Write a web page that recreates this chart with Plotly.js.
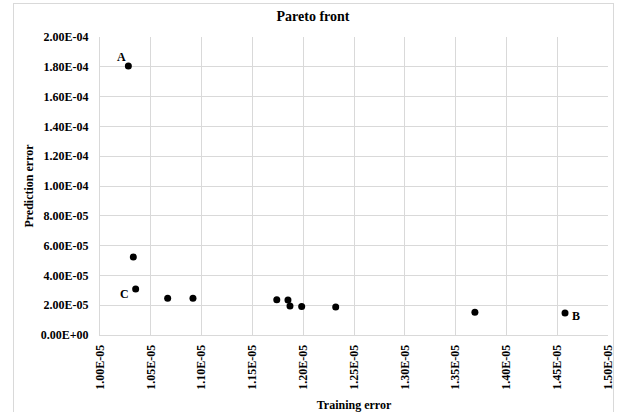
<!DOCTYPE html>
<html>
<head>
<meta charset="utf-8">
<script src="https://cdn.plot.ly/plotly-3.0.1.min.js"></script>
<style>
  html, body { margin: 0; padding: 0; background: #fff; overflow: hidden; }
  #frame { position: absolute; left: 13px; top: 3px; width: 599px; height: 430px; border: 1px solid #d9d9d9; }
  #chart { position: absolute; left: 0; top: 0; width: 621px; height: 412px; }
</style>
</head>
<body>
<div id="frame"></div>
<div id="chart"></div>
<script>
const trainingError = [1.0279e-5, 1.0328e-5, 1.0351e-5, 1.0666e-5, 1.0915e-5, 1.174e-5, 1.185e-5, 1.187e-5, 1.1985e-5, 1.232e-5, 1.369e-5, 1.4577e-5];
const predictionError = [1.806e-4, 5.23e-5, 3.08e-5, 2.46e-5, 2.46e-5, 2.37e-5, 2.35e-5, 1.94e-5, 1.92e-5, 1.88e-5, 1.52e-5, 1.47e-5];
const pointLabels = ['A', '', 'C', '', '', '', '', '', '', '', '', 'B'];

const xTickVals = [1.00e-5, 1.05e-5, 1.10e-5, 1.15e-5, 1.20e-5, 1.25e-5, 1.30e-5, 1.35e-5, 1.40e-5, 1.45e-5, 1.50e-5];
const xTickText = ['1.00E-05', '1.05E-05', '1.10E-05', '1.15E-05', '1.20E-05', '1.25E-05', '1.30E-05', '1.35E-05', '1.40E-05', '1.45E-05', '1.50E-05'];
const yTickVals = [0, 2e-5, 4e-5, 6e-5, 8e-5, 1e-4, 1.2e-4, 1.4e-4, 1.6e-4, 1.8e-4, 2e-4];
const yTickText = ['0.00E+00', '2.00E-05', '4.00E-05', '6.00E-05', '8.00E-05', '1.00E-04', '1.20E-04', '1.40E-04', '1.60E-04', '1.80E-04', '2.00E-04'];

const serif = 'Liberation Serif, Times New Roman, serif';
const labelShift = { A: [-7, 9], B: [11, -3], C: [-11, -5] };

const annotations = [];
pointLabels.forEach((lab, i) => {
  if (!lab) return;
  annotations.push({
    x: trainingError[i], y: predictionError[i], xref: 'x', yref: 'y',
    text: '<b>' + lab + '</b>', showarrow: false,
    xshift: labelShift[lab][0], yshift: labelShift[lab][1],
    font: { family: serif, size: 12, color: '#000' }
  });
});

const trace = {
  x: trainingError, y: predictionError, type: 'scatter', mode: 'markers',
  marker: { color: '#000', size: 7 }, hoverinfo: 'skip'
};

const layout = {
  width: 621, height: 412,
  margin: { l: 100, r: 13, t: 37, b: 77 },
  paper_bgcolor: 'rgba(0,0,0,0)', plot_bgcolor: 'rgba(0,0,0,0)',
  showlegend: false,
  title: { text: '<b>Pareto front</b>', x: 313 / 621, xref: 'container', xanchor: 'center',
           y: 1 - 16 / 412, yref: 'container', yanchor: 'middle',
           font: { family: serif, size: 14, color: '#000' } },
  xaxis: {
    range: [1.0e-5, 1.5e-5], tickmode: 'array', tickvals: xTickVals, ticktext: xTickText,
    tickangle: -90, showgrid: true, gridcolor: '#d9d9d9', gridwidth: 1,
    showline: true, linecolor: '#d9d9d9', linewidth: 1, zeroline: false, ticks: '',
    ticklabelstandoff: 4,
    tickfont: { family: serif, size: 12, color: '#000', weight: 'bold' },
    title: { text: '<b>Training error</b>', standoff: 11, font: { family: serif, size: 12, color: '#000' } }
  },
  yaxis: {
    range: [0, 2e-4], tickmode: 'array', tickvals: yTickVals, ticktext: yTickText,
    showgrid: true, gridcolor: '#d9d9d9', gridwidth: 1,
    showline: true, linecolor: '#d9d9d9', linewidth: 1, zeroline: false, ticks: '',
    ticklabelstandoff: 8,
    tickfont: { family: serif, size: 12, color: '#000', weight: 'bold' },
    title: { text: '<b>Prediction error</b>', standoff: 4, font: { family: serif, size: 12, color: '#000' } }
  },
  annotations: annotations
};

Plotly.newPlot('chart', [trace], layout, { displayModeBar: false, staticPlot: true });
</script>
</body>
</html>
